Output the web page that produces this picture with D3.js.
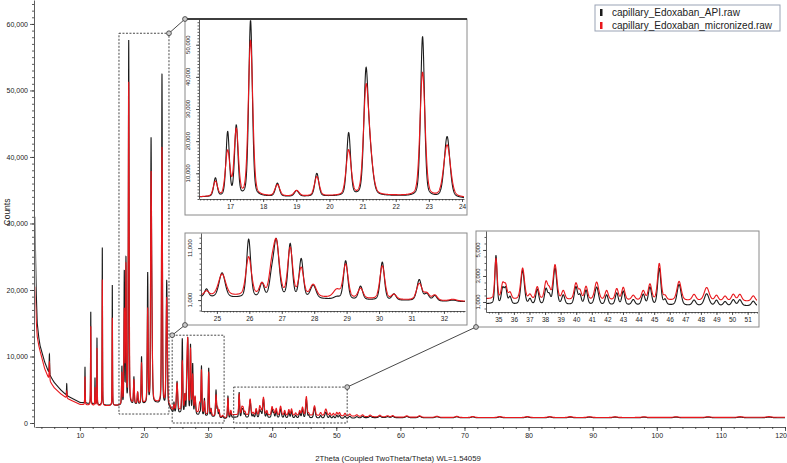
<!DOCTYPE html>
<html><head><meta charset="utf-8">
<script src="https://cdn.jsdelivr.net/npm/d3@7"></script>
<style>
html,body{margin:0;padding:0;background:#fff;}
svg{display:block;}
</style></head><body>
<svg id="chart" width="787" height="463"></svg>
<script>
// ---------------- DATA ----------------
const seriesNames = ["capillary_Edoxaban_API.raw", "capillary_Edoxaban_micronized.raw"];

// background (amorphous / air scatter) knots
const bgX   = [3.0, 3.1, 3.2, 3.35, 3.6, 3.8, 4.5, 5.3, 6.0, 7.0, 8.0, 10.0, 13.0, 16.0, 20.0, 22.0, 24.0, 24.5, 25.5, 27.0, 28.5, 30.0, 31.0, 32.0, 32.7, 34.0, 36.0, 45.0, 48.0, 51.6, 55.0, 60.0, 70.0, 90.0, 120.0];
const bgApi = [31000, 24500, 19500, 15000, 12800, 11600, 9200, 7200, 6100, 5000, 4100, 3100, 2700, 2600, 2800, 2900, 2200, 1500, 1400, 1350, 1150, 950, 900, 750, 650, 850, 800, 750, 720, 700, 800, 800, 780, 780, 800];
const bgMic = [20500, 17800, 15300, 13000, 11600, 10800, 8200, 6300, 5300, 4400, 3700, 2800, 2550, 2600, 2900, 3000, 2400, 1800, 1800, 1700, 1450, 1150, 1000, 850, 750, 1230, 1180, 1130, 1100, 1050, 950, 880, 830, 830, 860];

// reflections: position (2theta), net heights (counts) and FWHM (deg) for each sample
const peakPos = [5.25, 7.95, 10.8, 11.7, 12.36, 12.67, 13.5, 15.06,
  16.56, 16.93, 17.19, 17.62, 18.43, 19.01, 19.62, 20.58, 21.1, 21.22, 22.81, 23.55,
  24.68, 25.16, 25.98, 26.39, 26.68, 26.83, 27.26, 27.6, 27.97, 28.7, 28.97, 29.43, 30.1, 30.46, 31.24, 31.47, 31.72, 32.28, 33.1, 33.55,
  34.85, 35.28, 35.47, 35.75, 36.56, 37.03, 37.5, 38.06, 38.27, 38.64, 39.17, 39.98, 40.24, 40.63, 41.31, 41.95, 42.6, 43.02, 43.66, 44.3, 44.73, 45.33, 45.7, 46.6, 47.56, 48.37, 49.0, 49.55, 50.08, 50.5, 51.36,
  52.1, 53.2, 54.1, 55.3, 56.8, 58.0, 58.8, 61.0, 63.0, 65.7, 68.8, 71.3, 75.5, 79.8, 83.3, 86.5, 89.5, 93.5, 98.0, 103.0, 108.0, 113.0, 117.5];
const peakApi = [3000, 1750, 5450, 13850, 4000, 10000, 23700, 18100,
  5700, 19850, 21700, 54700, 4050, 1750, 7100, 19500, 34930, 12500, 49700, 18900,
  1500, 4700, 11200, 2650, 3000, 11000, 10250, 7450, 2500, 400, 7400, 2550, 7300, 1150, 4000, 1300, 1000, 250, 3300, 900,
  3700, 1150, 1150, 550, 2600, 400, 1150, 1150, 650, 2800, 700, 1350, 700, 1100, 1350, 750, 900, 1050, 400, 800, 1350, 2800, 400, 1600, 400, 900, 400, 300, 450, 450, 350,
  300, 200, 250, 220, 250, 150, 200, 180, 200, 150, 150, 130, 120, 120, 120, 110, 100, 100, 90, 90, 90, 90, 90];
const peakMic = [2750, 1100, 4250, 11850, 2700, 8600, 19000, 13200,
  4600, 13900, 20500, 48300, 3500, 1700, 6000, 14000, 29590, 10880, 38500, 16100,
  800, 4100, 7400, 2200, 4000, 10100, 9150, 5400, 2300, 1500, 6400, 1900, 6400, 900, 3150, 1300, 1000, 300, 2800, 800,
  3100, 1100, 1000, 500, 2400, 350, 950, 1300, 700, 2650, 650, 1250, 650, 1000, 1350, 700, 850, 950, 350, 700, 1200, 2800, 300, 1450, 450, 1000, 400, 350, 500, 500, 400,
  300, 220, 250, 250, 250, 180, 220, 200, 220, 170, 170, 150, 140, 140, 130, 130, 120, 100, 100, 100, 100, 100, 100];
const fwhmApi = [0.09, 0.08, 0.07, 0.07, 0.07, 0.07, 0.07, 0.07,
  0.12, 0.12, 0.12, 0.13, 0.14, 0.15, 0.14, 0.14, 0.15, 0.2, 0.14, 0.2,
  0.14, 0.22, 0.15, 0.15, 0.15, 0.2, 0.15, 0.15, 0.2, 0.2, 0.15, 0.15, 0.15, 0.15, 0.17, 0.17, 0.15, 0.25, 0.15, 0.18,
  0.16, 0.2, 0.2, 0.2, 0.26, 0.2, 0.22, 0.22, 0.2, 0.26, 0.22, 0.24, 0.2, 0.22, 0.28, 0.22, 0.22, 0.22, 0.24, 0.24, 0.24, 0.24, 0.2, 0.3, 0.26, 0.35, 0.24, 0.24, 0.26, 0.26, 0.26,
  0.35, 0.4, 0.35, 0.4, 0.4, 0.5, 0.4, 0.5, 0.5, 0.6, 0.6, 0.6, 0.7, 0.7, 0.7, 0.7, 0.8, 0.8, 0.8, 0.8, 0.8, 0.8, 0.8];
const fwhmMic = [0.11, 0.1, 0.09, 0.09, 0.09, 0.09, 0.09, 0.09,
  0.15, 0.16, 0.15, 0.16, 0.17, 0.18, 0.17, 0.18, 0.18, 0.22, 0.18, 0.24,
  0.16, 0.26, 0.2, 0.18, 0.18, 0.22, 0.18, 0.18, 0.22, 0.25, 0.18, 0.18, 0.18, 0.18, 0.2, 0.2, 0.18, 0.25, 0.18, 0.2,
  0.18, 0.22, 0.22, 0.22, 0.28, 0.22, 0.24, 0.24, 0.22, 0.28, 0.24, 0.26, 0.22, 0.24, 0.3, 0.24, 0.24, 0.24, 0.26, 0.26, 0.26, 0.26, 0.22, 0.32, 0.28, 0.37, 0.26, 0.26, 0.28, 0.28, 0.28,
  0.35, 0.4, 0.35, 0.4, 0.4, 0.5, 0.4, 0.5, 0.5, 0.6, 0.6, 0.6, 0.7, 0.7, 0.7, 0.7, 0.8, 0.8, 0.8, 0.8, 0.8, 0.8, 0.8];

// axis ticks
const mainXTicks = [10, 20, 30, 40, 50, 60, 70, 80, 90, 100, 110, 120];
const mainYTicks = [0, 10000, 20000, 30000, 40000, 50000, 60000];
const inset1XTicks = [17, 18, 19, 20, 21, 22, 23, 24];
const inset1YTicks = [10000, 20000, 30000, 40000, 50000];
const inset2XTicks = [25, 26, 27, 28, 29, 30, 31, 32];
const inset2YTicks = [1000, 11000];
const inset3XTicks = [35, 36, 37, 38, 39, 40, 41, 42, 43, 44, 45, 46, 47, 48, 49, 50, 51];
const inset3YTicks = [1000, 3000, 5000];

// zoom windows marked on the main chart (2theta range, counts range)
const zoomX0 = [16.1, 24.4, 34.0];
const zoomX1 = [23.9, 32.5, 51.7];
const zoomYTop = [58600, 13200, 5400];
const zoomYBot = [1350, 0, 0];

// ---------------- BUILD PROFILES ----------------
const FONT = '"Liberation Sans", Arial, Helvetica, sans-serif';
const ETA = 0.3;
const bgApiS = d3.scaleLinear().domain(bgX).range(bgApi).clamp(true);
const bgMicS = d3.scaleLinear().domain(bgX).range(bgMic).clamp(true);

function profileAt(x, heights, widths, bgS) {
  let y = bgS(x);
  for (let i = 0; i < peakPos.length; i++) {
    const d = (x - peakPos[i]) / widths[i];
    if (d > 40 || d < -40) continue;
    const d2 = d * d;
    y += heights[i] * (ETA / (1 + 4 * d2) + (1 - ETA) * Math.exp(-2.7725887 * d2));
  }
  return y;
}
const grid = [];
for (let x = 3; x < 52; x += 0.004) grid.push(x);
for (let x = 52; x <= 120.001; x += 0.04) grid.push(x);
const apiData = grid.map(x => [x, profileAt(x, peakApi, fwhmApi, bgApiS)]);
const micData = grid.map(x => [x, profileAt(x, peakMic, fwhmMic, bgMicS)]);

// ---------------- DRAW ----------------
const svg = d3.select("#chart").style("font-family", FONT);
const defs = svg.append("defs");
const BLACK = "#1b1b1b", RED = "#e8171c", AXIS = "#333";

function styleAxis(g, fs) {
  g.selectAll("path,line").attr("stroke", AXIS).attr("stroke-width", 0.8);
  g.selectAll("text").attr("font-family", FONT).attr("font-size", fs).attr("fill", "#222");
}

// main chart scales
const mX = d3.scaleLinear().domain([3, 120]).range([35, 785]);
const mY = d3.scaleLinear().domain([-600, 63600]).range([427, 0]);

defs.append("clipPath").attr("id", "clipMain").append("rect")
  .attr("x", 35.5).attr("y", 0).attr("width", 750).attr("height", 427);

const mainLine = d3.line().x(d => mX(d[0])).y(d => mY(d[1]));
const gMain = svg.append("g").attr("clip-path", "url(#clipMain)");
gMain.append("path").datum(apiData).attr("d", mainLine).attr("fill", "none").attr("stroke", BLACK).attr("stroke-width", 1.1);
gMain.append("path").datum(micData).attr("d", mainLine).attr("fill", "none").attr("stroke", RED).attr("stroke-width", 1.1);

// main axes
const gy = svg.append("g").attr("transform", "translate(34,0)")
  .call(d3.axisLeft(mY).tickValues(mainYTicks).tickSize(4).tickSizeOuter(0).tickPadding(2).tickFormat(d3.format(",")));
styleAxis(gy, 7);
const gyMin = svg.append("g").attr("transform", "translate(34,0)")
  .call(d3.axisLeft(mY).tickValues(d3.range(0, 63001, 1000)).tickSize(2).tickFormat(""));
gyMin.select(".domain").remove(); styleAxis(gyMin, 7);
const gx = svg.append("g").attr("transform", "translate(0,427)")
  .call(d3.axisBottom(mX).tickValues(mainXTicks).tickSize(4).tickSizeOuter(0).tickPadding(2));
styleAxis(gx, 7);
gx.selectAll(".tick text").filter(d => d === 120).attr("text-anchor", "end").attr("x", 1.5);
const gxMin = svg.append("g").attr("transform", "translate(0,427)")
  .call(d3.axisBottom(mX).tickValues(d3.range(4, 121, 2)).tickSize(2).tickFormat(""));
gxMin.select(".domain").remove(); styleAxis(gxMin, 7);

svg.append("text").attr("x", 398).attr("y", 461).attr("text-anchor", "middle")
  .attr("font-size", 7.8).attr("fill", "#222").text("2Theta (Coupled TwoTheta/Theta) WL=1.54059");
svg.append("text").attr("transform", "translate(10,212) rotate(-90)").attr("text-anchor", "middle")
  .attr("font-size", 8.5).attr("fill", "#222").text("Counts");

// zoom boxes on main chart
const boxes = zoomX0.map((x0, i) => ({
  x0: mX(x0), x1: mX(zoomX1[i]), y0: mY(zoomYTop[i]), y1: mY(zoomYBot[i])
}));
boxes.forEach(b => {
  svg.append("rect").attr("x", b.x0).attr("y", b.y0).attr("width", b.x1 - b.x0).attr("height", b.y1 - b.y0)
    .attr("fill", "none").attr("stroke", "#333").attr("stroke-width", 0.9).attr("stroke-dasharray", "2,1.5");
});

// insets
const insets = [
  { box: [185, 19, 467, 215], plot: [199, 19, 464, 199], xd: [16.065, 24.06], yd: [2000, 58000],
    xt: inset1XTicks, yt: inset1YTicks, xMinor: 0.1, yMinor: 1000, yLab: 9.5, thickTop: true },
  { box: [185, 233, 467, 325], plot: [201, 233, 465, 311], xd: [24.51, 32.65], yd: [-1100, 13900],
    xt: inset2XTicks, yt: inset2YTicks, xMinor: 0.1, yMinor: 1000, yLab: 9.5, thickTop: false },
  { box: [476, 231, 759, 327], plot: [486, 231, 757, 312], xd: [34.21, 51.6], yd: [230, 6460],
    xt: inset3XTicks, yt: inset3YTicks, xMinor: 0.2, yMinor: 500, yLab: 6.5, thickTop: false }
];

insets.forEach((ins, k) => {
  const [bx0, by0, bx1, by1] = ins.box;
  const [px0, py0, px1, py1] = ins.plot;
  svg.append("rect").attr("x", bx0).attr("y", by0).attr("width", bx1 - bx0).attr("height", by1 - by0)
    .attr("fill", "#fff").attr("stroke", "#8a8a8a").attr("stroke-width", 1);
  if (ins.thickTop) {
    svg.append("line").attr("x1", bx0).attr("x2", bx1).attr("y1", by0).attr("y2", by0)
      .attr("stroke", "#111").attr("stroke-width", 1.6);
  }
  const xs = d3.scaleLinear().domain(ins.xd).range([px0, px1]);
  const ys = d3.scaleLinear().domain(ins.yd).range([py1, py0]);
  defs.append("clipPath").attr("id", "clipIns" + k).append("rect")
    .attr("x", px0).attr("y", py0).attr("width", px1 - px0).attr("height", py1 - py0);
  const ln = d3.line().x(d => xs(d[0])).y(d => ys(d[1]));
  const inRange = d => d[0] >= ins.xd[0] - 0.3 && d[0] <= ins.xd[1] + 0.3;
  const g = svg.append("g").attr("clip-path", "url(#clipIns" + k + ")");
  g.append("path").datum(apiData.filter(inRange)).attr("d", ln).attr("fill", "none").attr("stroke", BLACK).attr("stroke-width", 1.1);
  g.append("path").datum(micData.filter(inRange)).attr("d", ln).attr("fill", "none").attr("stroke", RED).attr("stroke-width", 1.1);

  // axes
  const ax = svg.append("g").attr("transform", `translate(0,${py1})`)
    .call(d3.axisBottom(xs).tickValues(ins.xt).tickSize(3).tickSizeOuter(0).tickPadding(2).tickFormat(d3.format("d")));
  styleAxis(ax, 6.5);
  const xMinorVals = d3.range(Math.ceil(ins.xd[0] / ins.xMinor) * ins.xMinor, ins.xd[1], ins.xMinor);
  const axm = svg.append("g").attr("transform", `translate(0,${py1})`)
    .call(d3.axisBottom(xs).tickValues(xMinorVals).tickSize(1.5).tickFormat(""));
  axm.select(".domain").remove(); styleAxis(axm, 6.5);

  const ay = svg.append("g").attr("transform", `translate(${px0},0)`)
    .call(d3.axisLeft(ys).tickValues(ins.yt).tickSize(3).tickSizeOuter(0).tickFormat(""));
  styleAxis(ay, 6.5);
  const yMinorVals = d3.range(Math.ceil(ins.yd[0] / ins.yMinor) * ins.yMinor, ins.yd[1], ins.yMinor);
  const aym = svg.append("g").attr("transform", `translate(${px0},0)`)
    .call(d3.axisLeft(ys).tickValues(yMinorVals).tickSize(1.5).tickFormat(""));
  aym.select(".domain").remove(); styleAxis(aym, 6.5);
  ins.yt.forEach(v => {
    svg.append("text").attr("transform", `translate(${px0 - ins.yLab},${ys(v)}) rotate(-90)`)
      .attr("text-anchor", "middle").attr("font-size", 6).attr("fill", "#222").text(d3.format(",")(v));
  });
});

// connectors between zoom boxes and insets
const connectors = [
  [[boxes[0].x1, boxes[0].y0], [insets[0].box[0], insets[0].box[1]]],
  [[boxes[1].x0, boxes[1].y0], [insets[1].box[0], insets[1].box[3]]],
  [[boxes[2].x1, boxes[2].y0], [insets[2].box[0], insets[2].box[3]]]
];
connectors.forEach(([a, b]) => {
  svg.append("line").attr("x1", a[0]).attr("y1", a[1]).attr("x2", b[0]).attr("y2", b[1])
    .attr("stroke", "#333").attr("stroke-width", 0.9);
  [a, b].forEach(p => svg.append("circle").attr("cx", p[0]).attr("cy", p[1]).attr("r", 2.4)
    .attr("fill", "#ccc").attr("stroke", "#333").attr("stroke-width", 0.8));
});

// legend
const lg = svg.append("g");
lg.append("rect").attr("x", 595).attr("y", 5).attr("width", 185).attr("height", 26)
  .attr("fill", "#fff").attr("stroke", "#9aa3b5").attr("stroke-width", 1);
[BLACK, RED].forEach((c, i) => {
  lg.append("rect").attr("x", 600).attr("y", 9 + i * 13).attr("width", 2.5).attr("height", 7).attr("fill", c);
  lg.append("text").attr("x", 612).attr("y", 15.5 + i * 13).attr("font-size", 10).attr("fill", "#222").text(seriesNames[i]);
});
</script>
</body></html>
